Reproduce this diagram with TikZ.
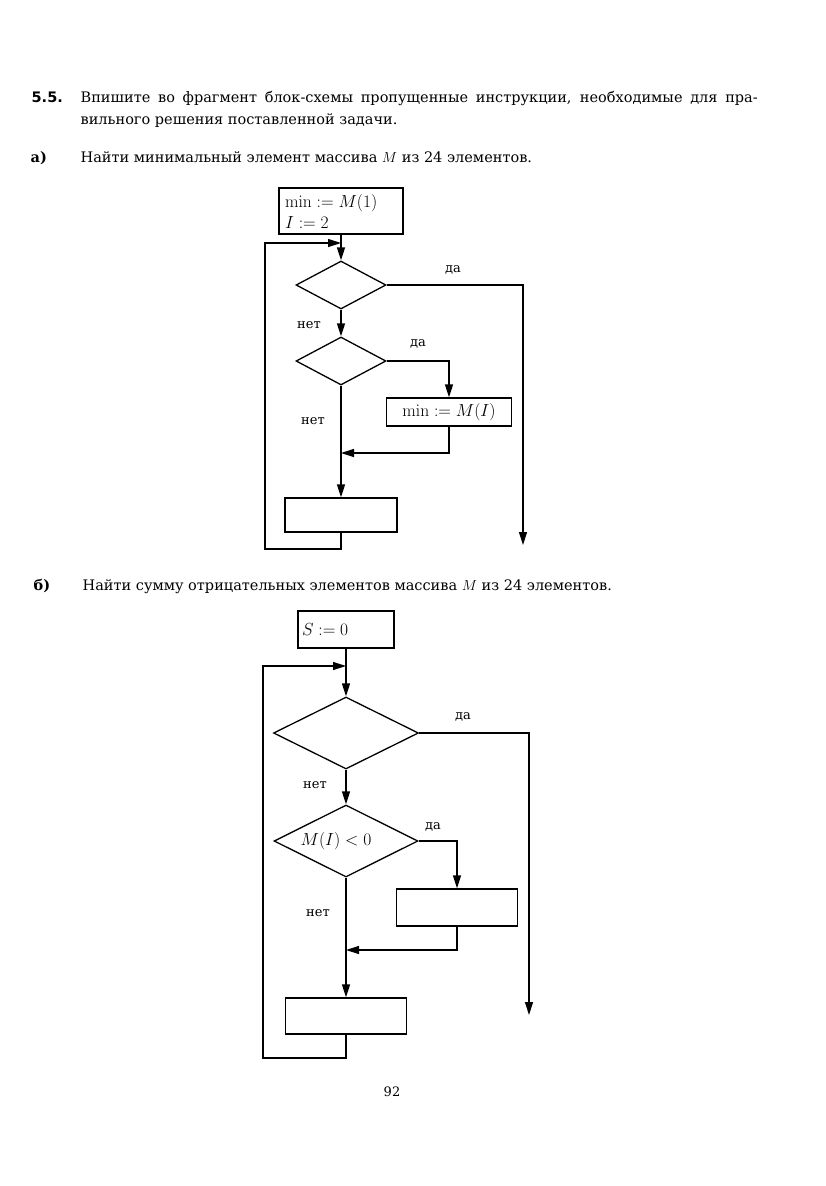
\documentclass[tikz,border=0pt]{standalone}
\usepackage{fix-cm}
\usepackage[no-math]{fontspec}
\setmainfont{DejaVu Serif}
\newfontfamily\headfont{DejaVu Sans}
\usetikzlibrary{shapes.geometric,arrows.meta}

\begin{document}
\begin{tikzpicture}[x=1pt, y=-1pt,
  line width=1.3pt,
  >={Triangle[length=13pt,width=8pt]},
  block/.style={draw, rectangle, inner sep=0pt, font=\fontsize{17.5}{21}\selectfont},
  cond/.style={draw, diamond, inner sep=0pt, font=\fontsize{17.5}{21}\selectfont},
  word/.style={font=\fontsize{13}{15}\selectfont, inner sep=0pt},
  task/.style={font=\fontsize{14.5}{22}\selectfont, inner sep=0pt, anchor=base west}
  ]
  \useasboundingbox (0,0) rectangle (826,1186);

  \node[task, font=\headfont\bfseries\fontsize{14.5}{16}\selectfont] (num) at (31,102) {5.5.};
  \node[task] (intro1) at (80,102) {\makebox[677pt][s]{Впишите во фрагмент блок-схемы пропущенные инструкции, необходимые для пра-}};
  \node[task] (intro2) at (80,124) {вильного решения поставленной задачи.};

  \node[task] (parta) at (30,162) {\bfseries а)};
  \node[task] (taska) at (80,162) {Найти минимальный элемент массива $M$ из 24 элементов.};

  \node[block, minimum width=124pt, minimum height=46pt, text width=112pt, align=left] (inita) at (341,211) {$\mathrm{min} := M(1)$\\ $I := 2$};
  \coordinate (ja) at (341,243);
  \node[cond, minimum width=90pt, minimum height=48pt] (qa1) at (341,285) {};
  \node[cond, minimum width=90pt, minimum height=48pt] (qa2) at (341,361) {};
  \node[block, minimum width=125pt, minimum height=28pt] (seta) at (449,412) {$\mathrm{min} := M(I)$};
  \coordinate (ma) at (341,453);
  \node[block, minimum width=112pt, minimum height=34pt] (stepa) at (341,515) {};
  \coordinate (ca) at (265,549);
  \coordinate (enda) at (523,545);

  \draw (inita) -- (ja);
  \draw[->] (ja) -- (qa1);
  \draw[->] (qa1) -- (qa2);
  \draw[->] (qa1.east) -| (enda);
  \draw[->] (qa2.east) -| (seta);
  \draw[->] (seta) |- (ma);
  \draw[->] (qa2) -- (stepa);
  \draw[->] (stepa) |- (ca) |- (ja);

  \node[word] (yesa1) at (453,270) {да};
  \node[word] (noa1) at (309,325) {нет};
  \node[word] (yesa2) at (418,344) {да};
  \node[word] (noa2) at (313,421) {нет};

  \node[task] (partb) at (33,590) {\bfseries б)};
  \node[task] (taskb) at (82,590) {Найти сумму отрицательных элементов массива $M$ из 24 элементов.};

  \node[block, minimum width=96pt, minimum height=37pt, text width=88pt, align=left] (initb) at (346,629.5) {$S := 0$};
  \coordinate (jb) at (346,666);
  \node[cond, minimum width=145pt, minimum height=72pt] (qb1) at (346,733) {};
  \node[cond, minimum width=144pt, minimum height=72pt] (qb2) at (346,841) {\hspace*{-20pt}$M(I) < 0$};
  \node[block, minimum width=121pt, minimum height=37pt] (setb) at (457,907.5) {};
  \coordinate (mb) at (346,950);
  \node[block, minimum width=121pt, minimum height=36pt] (stepb) at (346,1016) {};
  \coordinate (cb) at (263,1058);
  \coordinate (endb) at (529,1015);

  \draw (initb) -- (jb);
  \draw[->] (jb) -- (qb1);
  \draw[->] (qb1) -- (qb2);
  \draw[->] (qb1.east) -| (endb);
  \draw[->] (qb2.east) -| (setb);
  \draw[->] (setb) |- (mb);
  \draw[->] (qb2) -- (stepb);
  \draw[->] (stepb) |- (cb) |- (jb);

  \node[word] (yesb1) at (463,717) {да};
  \node[word] (nob1) at (315,785) {нет};
  \node[word] (yesb2) at (433,827) {да};
  \node[word] (nob2) at (318,913) {нет};

  \node[word] (page) at (392,1092) {92};
\end{tikzpicture}
\end{document}
